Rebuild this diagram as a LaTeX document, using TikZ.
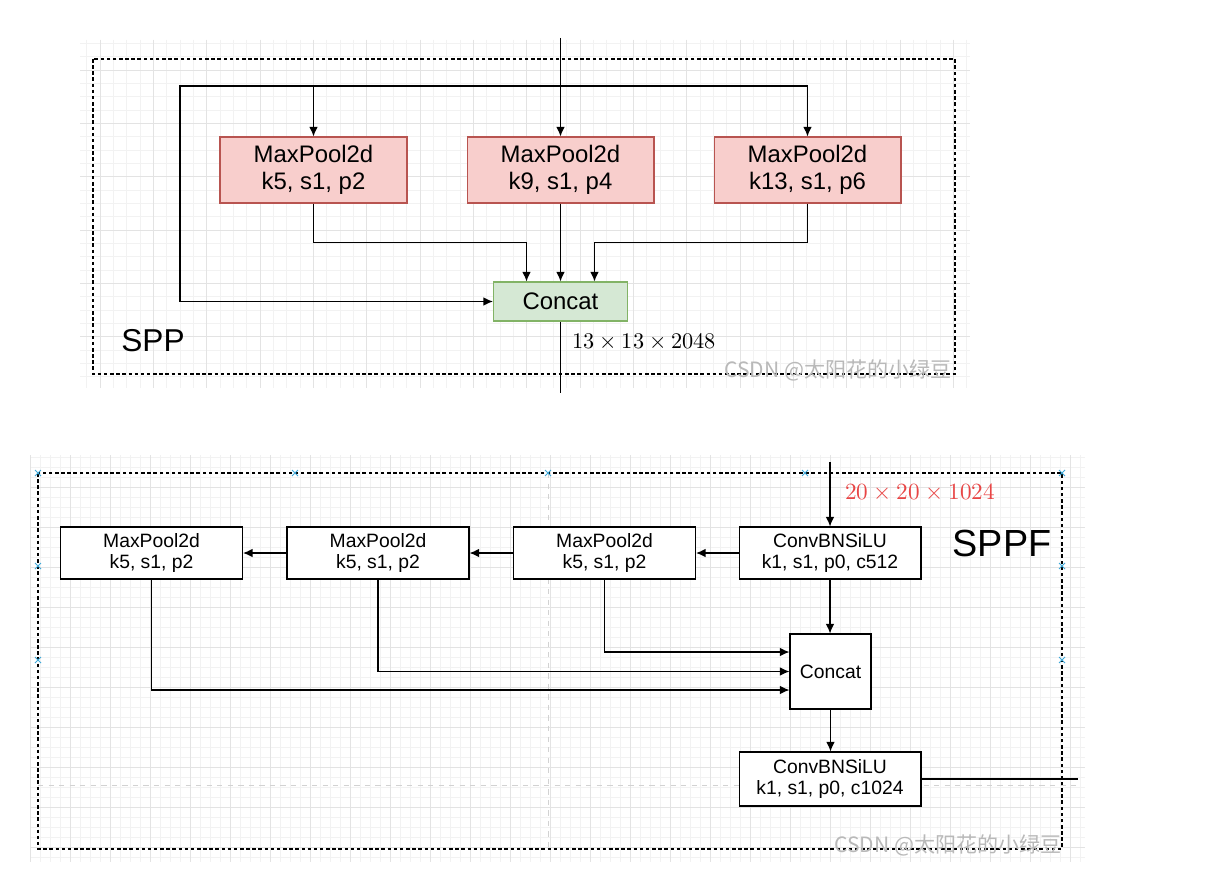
\documentclass[tikz,border=0pt]{standalone}
\usepackage{fontspec}
\usepackage{unicode-math}
\setmainfont{Liberation Sans}
\setmathfont{Latin Modern Math}
\newfontfamily\cjkfont{Noto Sans CJK SC}
\usetikzlibrary{arrows.meta, calc}
\definecolor{PoolFill}{HTML}{F8CECC}
\definecolor{PoolDraw}{HTML}{B85450}
\definecolor{CatFill}{HTML}{D5E8D4}
\definecolor{CatDraw}{HTML}{82B366}
\definecolor{DimRed}{HTML}{E84545}
\definecolor{HandleBlue}{HTML}{3FA9D9}
\tikzset{
    every node/.style={font=\fontsize{11}{12.5}\selectfont},
    % Background grid
    gridminor/.style={draw=gray!10, line width=0.3pt},
    gridmajor/.style={draw=gray!22, line width=0.4pt},
    % Dashed group frame
    frame/.style={draw=black, dash pattern=on 2pt off 1.5pt, line width=0.6pt},
    % Page break line
    pagebreak/.style={draw=gray!35, dash pattern=on 3pt off 3pt, line width=0.4pt},
    % Selection handle
    handle/.style={draw=HandleBlue, line width=0.5pt},
    % SPP pooling box
    pool/.style={
        rectangle,
        draw=PoolDraw,
        fill=PoolFill,
        line width=0.6pt,
        minimum width=3.74cm,
        minimum height=1.32cm,
        inner sep=0pt,
        align=center,
        font=\fontsize{13.6}{15.5}\selectfont
    },
    % SPP concat box
    concat/.style={
        rectangle,
        draw=CatDraw,
        fill=CatFill,
        line width=0.6pt,
        minimum width=2.68cm,
        minimum height=0.78cm,
        inner sep=0pt,
        align=center,
        font=\fontsize{13.6}{15.5}\selectfont
    },
    % SPPF plain box
    block/.style={
        rectangle,
        draw=black,
        fill=white,
        line width=0.6pt,
        minimum width=3.64cm,
        minimum height=1.04cm,
        inner sep=0pt,
        align=center,
        font=\fontsize{11}{12.5}\selectfont
    },
    % Arrow style
    arrow/.style={
        -{Latex[length=5.5pt, width=5pt]},
        line width=0.8pt,
        color=black
    },
    % Plain line
    line/.style={line width=0.8pt, color=black},
    % Watermark text
    wmark/.style={text=gray!55, font=\cjkfont\fontsize{12}{14}\selectfont, inner sep=0pt}
}
\begin{document}
\begin{tikzpicture}[x=0.02cm, y=-0.02cm]
    \useasboundingbox (0,0) rectangle (1229,875);
    \fill[white] (0,0) rectangle (1229,875);

    % Grid of the upper sheet
    \foreach \i in {0,...,66}
        \draw[gridminor] ({86.67+13.333*\i},40) -- ({86.67+13.333*\i},388);
    \foreach \i in {0,...,25}
        \draw[gridminor] (80,{43.3+13.333*\i}) -- (970,{43.3+13.333*\i});
    \foreach \i in {0,...,16}
        \draw[gridmajor] ({100+53.33*\i},40) -- ({100+53.33*\i},388);
    \foreach \i in {0,...,5}
        \draw[gridmajor] (80,{70+53.33*\i}) -- (970,{70+53.33*\i});

    % Grid of the lower sheet
    \foreach \i in {0,...,105}
        \draw[gridminor] ({30+10*\i},455) -- ({30+10*\i},862);
    \foreach \i in {0,...,40}
        \draw[gridminor] (30,{457+10*\i}) -- (1085,{457+10*\i});
    \foreach \i in {0,...,26}
        \draw[gridmajor] ({30+40*\i},455) -- ({30+40*\i},862);
    \foreach \i in {0,...,9}
        \draw[gridmajor] (30,{487+40*\i}) -- (1085,{487+40*\i});
    \draw[pagebreak] (548,473) -- (548,849);
    \draw[pagebreak] (38,785) -- (1080,785);

    % SPP
    \draw[frame] (93,59) rectangle (955,374);
    \node (p1) [pool] at (313.5,170) {MaxPool2d\\k5, s1, p2};
    \node (p2) [pool] at (560.5,170) {MaxPool2d\\k9, s1, p4};
    \node (p3) [pool] at (807.5,170) {MaxPool2d\\k13, s1, p6};
    \node (cat) [concat] at (560.5,301.5) {Concat};
    \coordinate (in) at (560.5,38);
    \coordinate (split) at (560.5,86);
    \coordinate (skip) at (180,86);
    \coordinate (out) at (560.5,393);

    \draw [arrow] (in) -- (p2.north);
    \draw [arrow] (split) -| (p1.north);
    \draw [arrow] (split) -| (p3.north);
    \draw [arrow] (split) -- (skip) |- (cat.west);
    \draw [arrow] (p1.south) -- ++(0,39) -| ([xshift=-0.68cm]cat.north);
    \draw [arrow] (p2.south) -- (cat.north);
    \draw [arrow] (p3.south) -- ++(0,39) -| ([xshift=0.68cm]cat.north);
    \draw [line] (cat.south) -- (out);

    \node (spp) [font=\fontsize{18}{20}\selectfont] at (153,341) {SPP};
    \node (dim1) [anchor=west, inner sep=0pt, font=\fontsize{12.7}{14}\selectfont] at (572,341) {$13\times13\times2048$};
    \node (wm1) [wmark, anchor=east] at (952,370) {CSDN @太阳花的小绿豆};

    % SPPF
    \draw[frame] (38,473) rectangle (1062,849);
    \foreach \hx/\hy in {38/473, 295/473, 548/473, 805/473, 1062/473, 38/566, 38/660, 1062/566, 1062/660}
        \draw[handle] (\hx-3,\hy-3) -- (\hx+3,\hy+3) (\hx-3,\hy+3) -- (\hx+3,\hy-3);
    \node (cbs1) [block] at (830,553) {ConvBNSiLU\\k1, s1, p0, c512};
    \node (mp3) [block] at (604.5,553) {MaxPool2d\\k5, s1, p2};
    \node (mp2) [block] at (378,553) {MaxPool2d\\k5, s1, p2};
    \node (mp1) [block] at (151.5,553) {MaxPool2d\\k5, s1, p2};
    \node (cat2) [block, minimum width=1.62cm, minimum height=1.5cm] at (830.5,671.5) {Concat};
    \node (cbs2) [block, minimum height=1.08cm] at (830,779) {ConvBNSiLU\\k1, s1, p0, c1024};
    \coordinate (in2) at (830,462);
    \coordinate (out2) at (1078,779);

    \draw [arrow] (in2) -- (cbs1.north);
    \draw [arrow] (cbs1) -- (mp3);
    \draw [arrow] (mp3) -- (mp2);
    \draw [arrow] (mp2) -- (mp1);
    \draw [arrow] (cbs1.south) -- (cbs1.south |- cat2.north);
    \draw [arrow] (mp3.south) |- ([yshift=0.39cm]cat2.west);
    \draw [arrow] (mp2.south) |- (cat2.west);
    \draw [arrow] (mp1.south) |- ([yshift=-0.37cm]cat2.west);
    \draw [arrow] (cat2.south) -- (cat2.south |- cbs2.north);
    \draw [line] (cbs2.east) -- (out2);

    \node (dim2) [anchor=west, inner sep=0pt, text=DimRed, font=\fontsize{13.2}{15}\selectfont] at (845,492) {$20\times20\times1024$};
    \node (sppf) [font=\fontsize{21.5}{24}\selectfont] at (1002,543) {SPPF};
    \node (wm2) [wmark, anchor=east] at (1062,845) {CSDN @太阳花的小绿豆};
\end{tikzpicture}
\end{document}
